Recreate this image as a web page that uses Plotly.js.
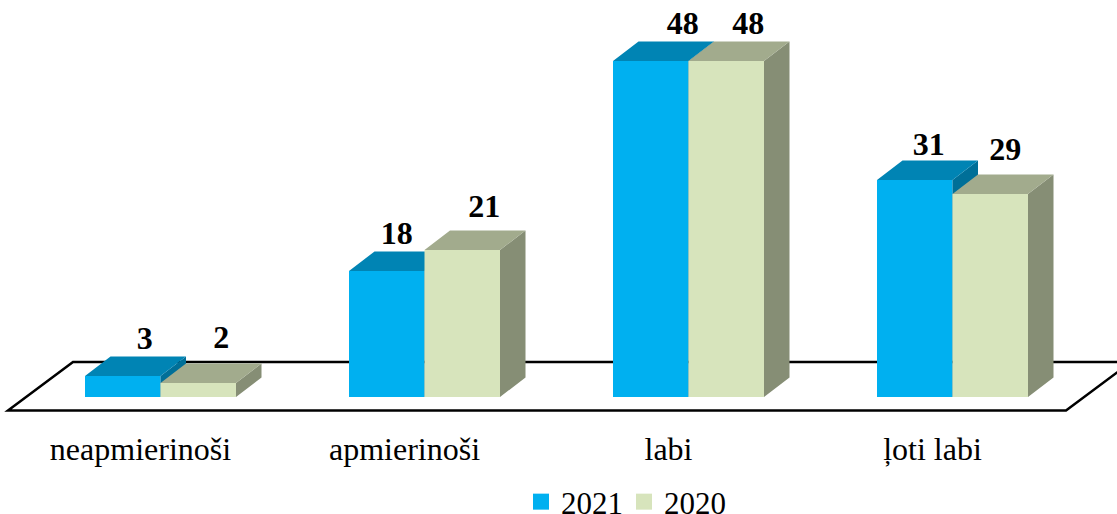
<!DOCTYPE html>
<html>
<head>
<meta charset="utf-8">
<script src="https://cdn.plot.ly/plotly-3.0.0.min.js"></script>
<style>html,body{margin:0;padding:0;background:#fff;overflow:hidden}</style>
</head>
<body>
<div id="chart" style="width:1117px;height:514px"></div>
<script>
const categories = ["neapmierinoši", "apmierinoši", "labi", "ļoti labi"];
const series2021 = [3, 18, 48, 31];
const series2020 = [2, 21, 48, 29];
const name2021 = "2021";
const name2020 = "2020";

// scale: pixels per unit, mapped onto a full-page plot
const W = 1117, H = 514, plotH = 415;
const pxPerCat = 264, pxPerVal = 7, x0 = 160.5, y0 = 397;
const xRange = [(0 - x0) / pxPerCat, (W - x0) / pxPerCat];
const yRange = [(y0 - plotH) / pxPerVal, y0 / pxPerVal];
const px2x = p => (p - x0) / pxPerCat;
const py2y = p => (y0 - p) / pxPerVal;
const barW = 75.5 / pxPerCat;
const depthX = 25.5 / pxPerCat, depthY = 19.5 / pxPerVal;
const idx = categories.map((_, i) => i);
const font = "'Liberation Serif','Times New Roman',serif";

function faces(values, offset) {
  const top = {x: [], y: []}, side = {x: [], y: []};
  values.forEach((v, i) => {
    const l = i + offset, r = l + barW;
    top.x.push(l, r, r + depthX, l + depthX, l, null);
    top.y.push(v, v, v + depthY, v + depthY, v, null);
    side.x.push(r, r + depthX, r + depthX, r, r, null);
    side.y.push(0, depthY, v + depthY, v, 0, null);
  });
  return {top, side};
}
function poly(d, color, xa, ya) {
  return {x: d.x, y: d.y, xaxis: xa, yaxis: ya, type: "scatter", mode: "lines", fill: "toself",
    fillcolor: color, line: {width: 0, color: color}, showlegend: false, hoverinfo: "skip"};
}
function bars(values, offset, color, name, xa, ya) {
  return {type: "bar", x: idx, y: values, name: name, width: barW, offset: offset, xaxis: xa, yaxis: ya,
    marker: {color: color, line: {width: 0}}, showlegend: false, hoverinfo: "skip"};
}
function labels(values, offset, shifts, lifts, xa, ya) {
  return {type: "scatter", mode: "text", xaxis: xa, yaxis: ya, cliponaxis: false, showlegend: false, hoverinfo: "skip",
    x: idx.map(i => i + offset + barW / 2 + shifts[i] / pxPerCat),
    y: values.map((v, i) => v + lifts[i] / pxPerVal),
    text: values.map(String), textposition: "middle center",
    textfont: {family: font, size: 32, color: "#000", weight: 700}};
}
function legendKey(name, color) {
  return {type: "scatter", mode: "markers", x: [null], y: [null], name: name, xaxis: "x2", yaxis: "y2",
    marker: {symbol: "square", size: 16, color: color}, showlegend: true, hoverinfo: "skip"};
}

const f21 = faces(series2021, -barW), f20 = faces(series2020, 0);
const shift21 = [22, 10, 32, 14], shift20 = [23, 22, 22, 15];
const lift21 = [35, 35, 35, 33], lift20 = [43, 41, 35, 42];
const traces = [
  bars(series2021, -barW, "#00B0F0", name2021, "x", "y"),
  poly(f21.side, "#006F98", "x", "y"),
  poly(f21.top, "#0084B4", "x", "y"),
  bars(series2020, 0, "#D7E4BC", name2020, "x2", "y2"),
  poly(f20.side, "#868E75", "x2", "y2"),
  poly(f20.top, "#A2AB8D", "x2", "y2"),
  labels(series2021, -barW, shift21, lift21, "x2", "y2"),
  labels(series2020, 0, shift20, lift20, "x2", "y2"),
  legendKey(name2021, "#00B0F0"),
  legendKey(name2020, "#D7E4BC")
];

const floorPts = [[8, 410.5], [73, 362], [1131, 362], [1066, 410.5]];
const floorPath = floorPts.map((p, i) => (i ? "L" : "M") + px2x(p[0]) + "," + py2y(p[1])).join(" ") + " Z";

const layout = {
  width: W, height: H,
  margin: {l: 0, r: 0, t: 0, b: H - plotH, pad: 0, autoexpand: false},
  paper_bgcolor: "#fff", plot_bgcolor: "rgba(0,0,0,0)",
  showlegend: true, hovermode: false,
  xaxis: {range: xRange, fixedrange: true, showgrid: false, zeroline: false, showline: false,
    tickmode: "array", tickvals: idx.map(i => i - 20 / pxPerCat), ticktext: categories,
    ticks: "outside", ticklen: 6, tickcolor: "rgba(0,0,0,0)", tickangle: 0,
    tickfont: {family: font, size: 32, color: "#000"}},
  yaxis: {range: yRange, fixedrange: true, showgrid: false, zeroline: false, showline: false, showticklabels: false, ticks: ""},
  xaxis2: {range: xRange, overlaying: "x", visible: false, fixedrange: true},
  yaxis2: {range: yRange, overlaying: "y", visible: false, fixedrange: true},
  legend: {orientation: "h", xanchor: "left", yanchor: "middle", x: 521 / W, y: (plotH - 502) / plotH,
    font: {family: font, size: 31, color: "#000"}, bgcolor: "rgba(0,0,0,0)",
    entrywidth: 58, entrywidthmode: "pixels", itemclick: false, itemdoubleclick: false},
  shapes: [{type: "path", xref: "x", yref: "y", layer: "below", path: floorPath,
    line: {color: "#000", width: 2.5}, fillcolor: "rgba(0,0,0,0)"}]
};
Plotly.newPlot("chart", traces, layout, {displayModeBar: false, staticPlot: true});
</script>
</body>
</html>
